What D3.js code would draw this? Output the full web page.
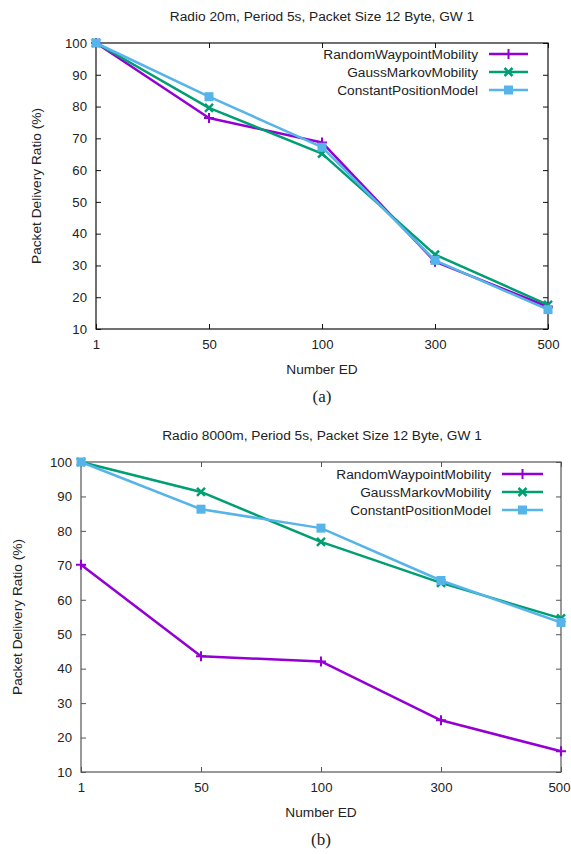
<!DOCTYPE html>
<html>
<head>
<meta charset="utf-8">
<script src="https://cdn.jsdelivr.net/npm/d3@7"></script>
<style>
  body { margin: 0; background: #fff; }
  text { font-family: "Liberation Sans", Arial, sans-serif; fill: #222; }
</style>
</head>
<body>
<svg id="chart" width="571" height="854"></svg>
<script>
// categories on the x axis
const categories = ["1", "50", "100", "300", "500"];
const yTicks = [10, 20, 30, 40, 50, 60, 70, 80, 90, 100];
const seriesNames = ["RandomWaypointMobility", "GaussMarkovMobility", "ConstantPositionModel"];
const colors = ["#9400d3", "#009e73", "#56b4e9"];

// panel (a): radio 20m
const randomA = [100, 76.4, 68.7, 31.2, 17];
const gaussA = [100, 79.6, 65.2, 33.4, 17.6];
const constA = [100, 83.1, 67.2, 31.6, 16.1];

// panel (b): radio 8000m
const randomB = [70.2, 43.6, 42.1, 25, 16];
const gaussB = [100, 91.3, 76.8, 64.9, 54.6];
const constB = [100, 86.3, 80.8, 65.6, 53.4];

const fontSize = "13.7px";
const svg = d3.select("#chart");

function drawPanel(opts) {
    const x = d3.scalePoint()
        .domain(categories)
        .range([opts.left, opts.right]);

    const y = d3.scaleLinear()
        .domain([10, 100])
        .range([opts.bottom, opts.top]);

    const g = svg.append("g");

    // frame
    g.append("rect")
        .attr("x", opts.left)
        .attr("y", opts.top)
        .attr("width", opts.right - opts.left)
        .attr("height", opts.bottom - opts.top)
        .attr("fill", "none")
        .attr("stroke", opts.frame)
        .attr("stroke-width", 1.2);

    // y axis with inner ticks, mirrored on the right
    g.append("g")
        .attr("transform", `translate(${opts.left},0)`)
        .call(d3.axisLeft(y).tickValues(yTicks).tickSize(-5).tickPadding(9))
        .call(a => a.select(".domain").remove());
    g.append("g")
        .attr("transform", `translate(${opts.right},0)`)
        .call(d3.axisRight(y).tickValues(yTicks).tickSize(-5).tickFormat(""))
        .call(a => a.select(".domain").remove());

    // x axis with inner ticks, mirrored on top
    const xAxis = g.append("g")
        .attr("transform", `translate(0,${opts.bottom})`)
        .call(d3.axisBottom(x).tickSize(-5).tickPadding(11))
        .call(a => a.select(".domain").remove());
    g.append("g")
        .attr("transform", `translate(0,${opts.top})`)
        .call(d3.axisTop(x).tickSize(-5).tickFormat(""))
        .call(a => a.select(".domain").remove());

    g.selectAll(".tick line").attr("stroke", opts.frame);
    g.selectAll(".tick text")
        .style("font-size", "13.2px")
        .style("font-family", "Liberation Sans, Arial, sans-serif")
        .attr("fill", "#222");

    // keep the last x label inside the page
    xAxis.selectAll(".tick text")
        .filter(d => d === "500")
        .attr("dx", opts.lastShift);

    // titles
    g.append("text")
        .attr("x", 322)
        .attr("y", opts.top - 22)
        .attr("text-anchor", "middle")
        .style("font-size", fontSize)
        .text(opts.title);

    g.append("text")
        .attr("x", (opts.left + opts.right) / 2)
        .attr("y", opts.bottom + 45)
        .attr("text-anchor", "middle")
        .style("font-size", fontSize)
        .text("Number ED");

    g.append("text")
        .attr("transform", `translate(${opts.ylabelX},${(opts.top + opts.bottom) / 2}) rotate(-90)`)
        .attr("text-anchor", "middle")
        .style("font-size", fontSize)
        .text("Packet Delivery Ratio (%)");

    g.append("text")
        .attr("x", (opts.left + opts.right) / 2)
        .attr("y", opts.bottom + 73)
        .attr("text-anchor", "middle")
        .style("font-family", "Liberation Serif, 'Times New Roman', serif")
        .style("font-size", "17px")
        .text(opts.caption);

    const line = d3.line()
        .x((d, i) => x(categories[i]))
        .y(d => y(d));

    opts.series.forEach((values, index) => {
        g.append("path")
            .datum(values)
            .attr("fill", "none")
            .attr("stroke", colors[index])
            .attr("stroke-width", 2.5)
            .attr("stroke-linejoin", "round")
            .attr("d", line);

        values.forEach((v, i) => {
            drawMarker(g, index, x(categories[i]), y(v));
        });
    });

    // legend
    seriesNames.forEach((name, index) => {
        const ly = opts.legendY + index * 18;
        g.append("text")
            .attr("x", opts.legendText)
            .attr("y", ly + 5)
            .attr("text-anchor", "end")
            .style("font-size", fontSize)
            .text(name);
        g.append("line")
            .attr("x1", opts.legendLine[0])
            .attr("x2", opts.legendLine[1])
            .attr("y1", ly)
            .attr("y2", ly)
            .attr("stroke", colors[index])
            .attr("stroke-width", 2.5);
        drawMarker(g, index, (opts.legendLine[0] + opts.legendLine[1]) / 2, ly);
    });
}

function drawMarker(g, index, cx, cy) {
    const c = colors[index];
    if (index === 0) {
        g.append("path")
            .attr("d", `M${cx - 5},${cy}H${cx + 5}M${cx},${cy - 5}V${cy + 5}`)
            .attr("stroke", c).attr("stroke-width", 2);
    } else if (index === 1) {
        g.append("path")
            .attr("d", `M${cx - 4},${cy - 4}L${cx + 4},${cy + 4}M${cx - 4},${cy + 4}L${cx + 4},${cy - 4}`)
            .attr("stroke", c).attr("stroke-width", 2.5);
    } else {
        g.append("rect")
            .attr("x", cx - 4.5).attr("y", cy - 4.5)
            .attr("width", 9).attr("height", 9)
            .attr("fill", c);
    }
}

drawPanel({
    title: "Radio 20m, Period 5s, Packet Size 12 Byte, GW 1",
    caption: "(a)",
    left: 96, right: 548, top: 43, bottom: 329,
    ylabelX: 41,
    frame: "#111",
    lastShift: 0,
    series: [randomA, gaussA, constA],
    legendY: 54, legendText: 478, legendLine: [489, 528]
});

drawPanel({
    title: "Radio 8000m, Period 5s, Packet Size 12 Byte, GW 1",
    caption: "(b)",
    left: 81, right: 561, top: 462, bottom: 772,
    ylabelX: 22,
    frame: "#555",
    lastShift: -2,
    series: [randomB, gaussB, constB],
    legendY: 474, legendText: 491, legendLine: [502, 543]
});
</script>
</body>
</html>
